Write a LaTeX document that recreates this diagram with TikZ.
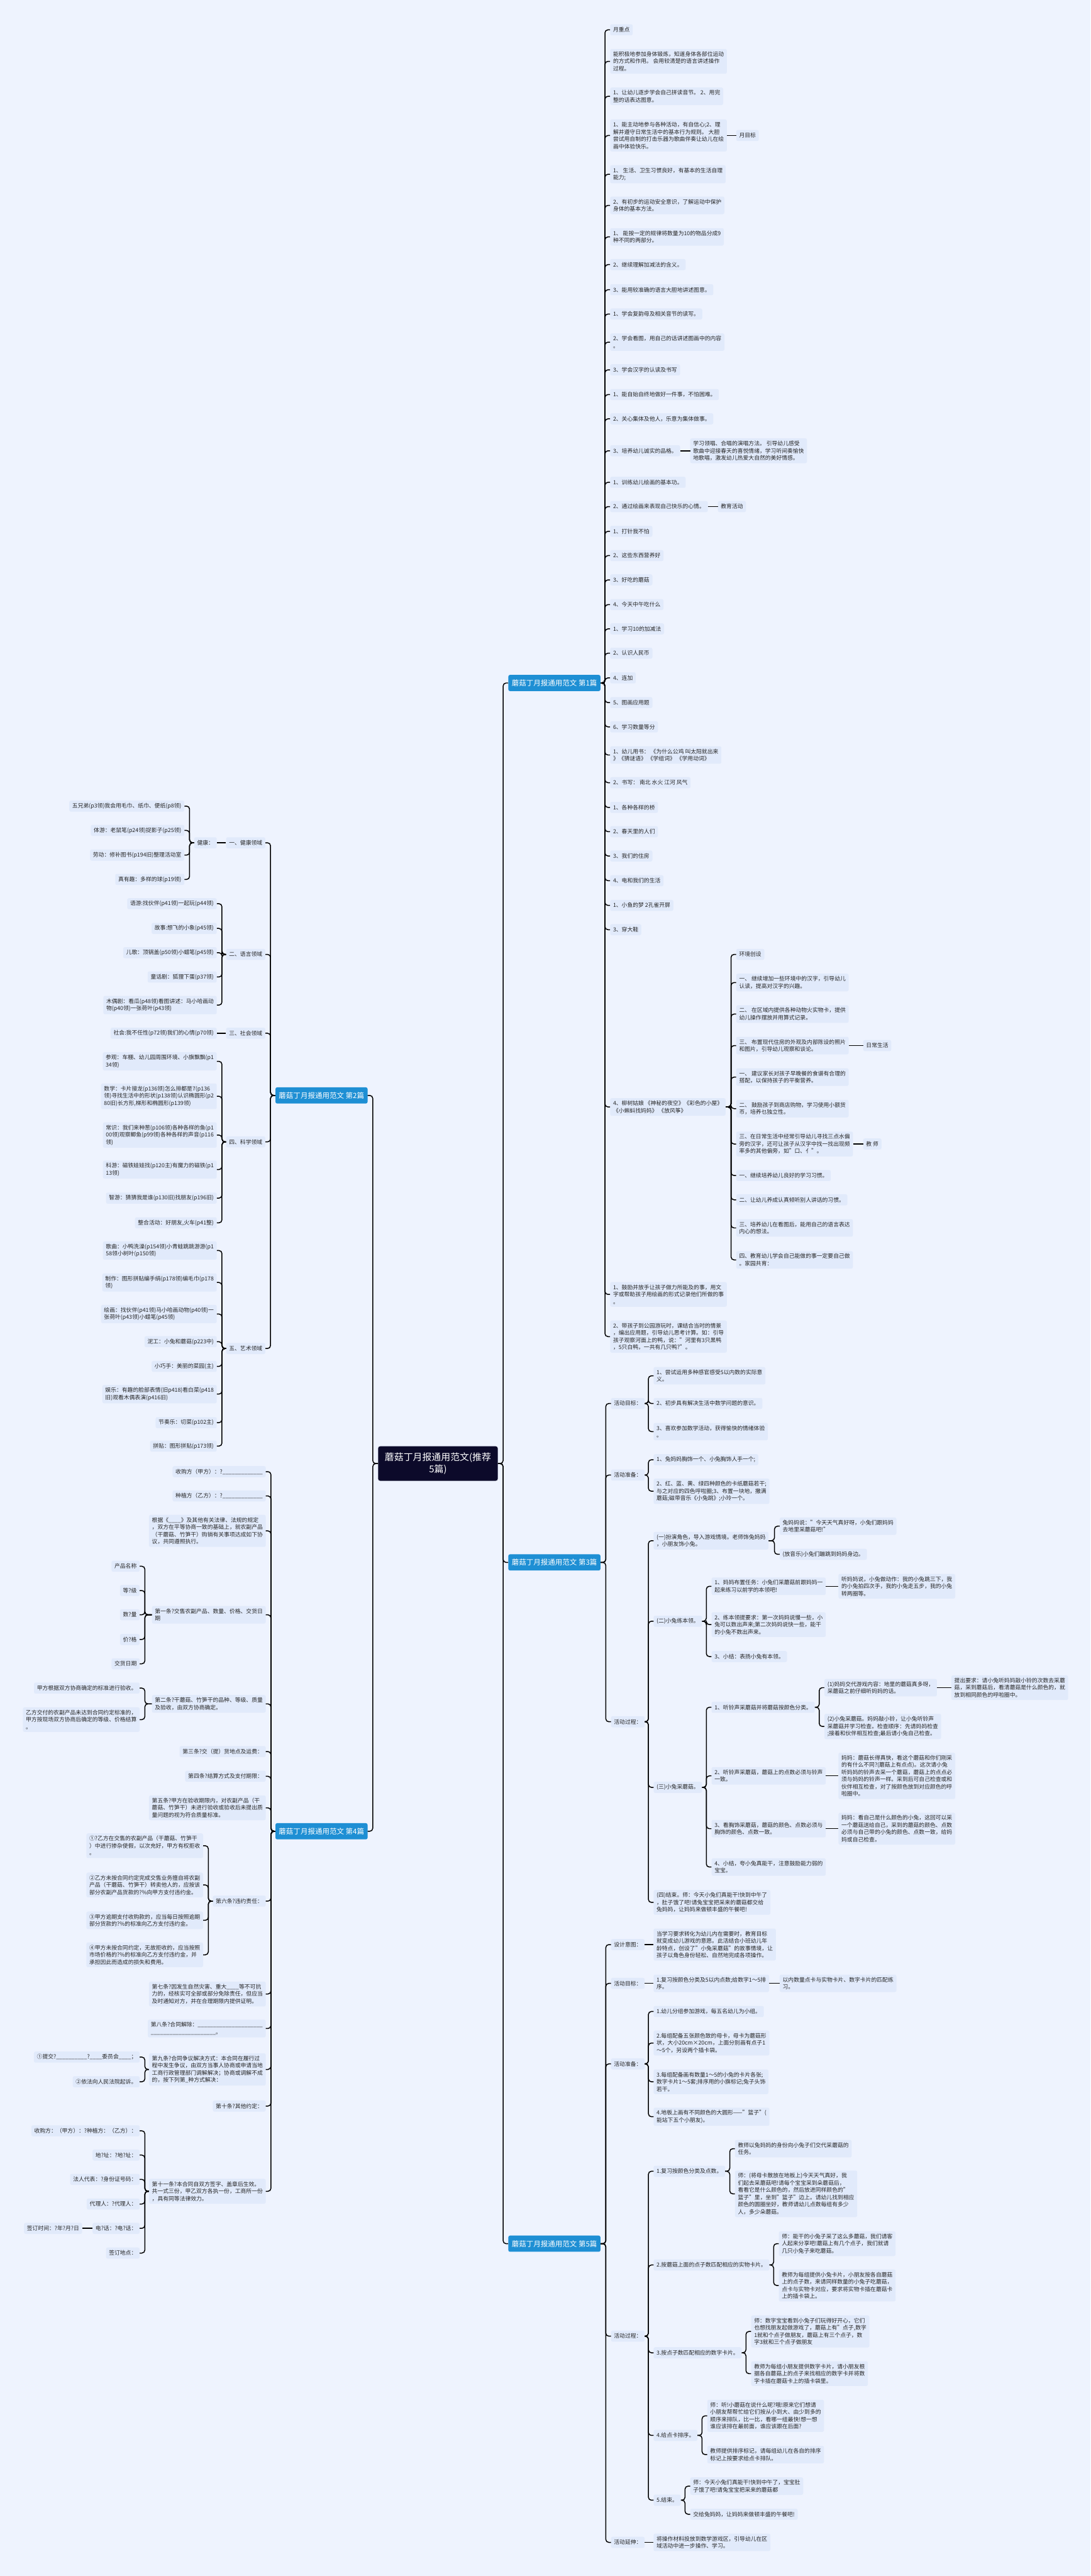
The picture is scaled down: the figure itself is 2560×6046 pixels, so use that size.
\documentclass[tikz,border=0pt]{standalone}
\usepackage{fontspec}
\setmainfont{Noto Sans CJK SC}
\usepackage{tikz}

\definecolor{bgblue}{RGB}{238,243,254}
\definecolor{boxfill}{RGB}{225,234,251}
\definecolor{chapblue}{RGB}{30,143,212}
\definecolor{rootnavy}{RGB}{12,10,42}
\definecolor{ink}{RGB}{38,38,38}

\begin{document}
\begin{tikzpicture}[x=1pt,y=-1pt,
    entry/.style={fill=boxfill,rounded corners=4pt,inner xsep=7pt,inner ysep=6pt,minimum height=26pt,align=left,text=ink,font=\fontsize{13}{17}\selectfont},
    er/.style={entry,anchor=west},
    el/.style={entry,anchor=east},
    chapter/.style={fill=chapblue,text=white,rounded corners=4pt,inner xsep=8pt,minimum height=38pt,font=\fontsize{17}{20}\selectfont},
    centre/.style={fill=rootnavy,text=white,rounded corners=5pt,minimum width=281pt,minimum height=81pt,align=center,font=\fontsize{22}{27}\selectfont},
    link/.style={draw=black,line width=2.2pt,rounded corners=7pt}]
    \useasboundingbox (0,0) rectangle (2560,6046);
    \fill[bgblue] (0,0) rectangle (2560,6046);

    % centre and the five parts
    \node[centre] (root) at (1028,3435) {蘑菇丁月报通用范文(推荐\\5篇)};
    \node[chapter,anchor=west] (s1) at (1193,1603) {蘑菇丁月报通用范文 第1篇};
    \node[chapter,anchor=east] (s2) at (863,2571) {蘑菇丁月报通用范文 第2篇};
    \node[chapter,anchor=west] (s3) at (1193,3667) {蘑菇丁月报通用范文 第3篇};
    \node[chapter,anchor=east] (s4) at (863,4298) {蘑菇丁月报通用范文 第4篇};
    \node[chapter,anchor=west] (s5) at (1193,5266) {蘑菇丁月报通用范文 第5篇};

    % part 1
    \node[er] (a1) at (1432,70) {月重点};
    \node[er] (a2) at (1432,144) {能积极地参加身体锻炼，知道身体各部位运动\\的方式和作用。 会用较清楚的语言讲述操作\\过程。};
    \node[er] (a3) at (1432,226) {1、让幼儿逐步学会自己拼读音节。 2、用完\\整的话表达图意。};
    \node[er] (a4) at (1432,318) {1、能主动地参与各种活动，有自信心;2、理\\解并遵守日常生活中的基本行为规则。 大胆\\尝试用自制的打击乐器为歌曲伴奏让幼儿在绘\\画中体验快乐。};
    \node[er] (a4x) at (1728,318) {月目标};
    \node[er] (a5) at (1432,409) {1、 生活、卫生习惯良好，有基本的生活自理\\能力;};
    \node[er] (a6) at (1432,482) {2、有初步的运动安全意识，了解运动中保护\\身体的基本方法。};
    \node[er] (a7) at (1432,556) {1、 能按一定的规律将数量为10的物品分成9\\种不同的两部分。};
    \node[er] (a8) at (1432,621) {2、继续理解加减法的含义。};
    \node[er] (a9) at (1432,680) {3、能用较准确的语言大胆地讲述图意。};
    \node[er] (a10) at (1432,737) {1、学会复韵母及相关音节的读写。};
    \node[er] (a11) at (1432,803) {2、学会看图，用自己的话讲述图画中的内容\\。};
    \node[er] (a12) at (1432,868) {3、学会汉字的认读及书写};
    \node[er] (a13) at (1432,926) {1、能自始自终地做好一件事，不怕困难。};
    \node[er] (a14) at (1432,983) {2、关心集体及他人，乐意为集体做事。};
    \node[er] (a15) at (1432,1058) {3、培养幼儿诚实的品格。};
    \node[er] (a15x) at (1620,1058) {学习领唱、合唱的演唱方法。 引导幼儿感受\\歌曲中迎接春天的喜悦情绪，学习听间奏愉快\\地歌唱，激发幼儿热爱大自然的美好情感。};
    \node[er] (a16) at (1432,1132) {1、训练幼儿绘画的基本功。};
    \node[er] (a17) at (1432,1189) {2、通过绘画来表现自己快乐的心情。};
    \node[er] (a17x) at (1685,1189) {教育活动};
    \node[er] (a18) at (1432,1247) {1、打针我不怕};
    \node[er] (a19) at (1432,1304) {2、这些东西营养好};
    \node[er] (a20) at (1432,1361) {3、好吃的蘑菇};
    \node[er] (a21) at (1432,1419) {4、今天中午吃什么};
    \node[er] (a22) at (1432,1476) {1、学习10的加减法};
    \node[er] (a23) at (1432,1533) {2、认识人民币};
    \node[er] (a24) at (1432,1591) {4、连加};
    \node[er] (a25) at (1432,1649) {5、图画应用题};
    \node[er] (a26) at (1432,1706) {6、学习数量等分};
    \node[er] (a27) at (1432,1772) {1、幼儿用书：  《为什么公鸡 叫太阳就出来\\》《猜谜语》 《学组词》 《学用动词》};
    \node[er] (a28) at (1432,1837) {2、书写：  南北 水火 江河 风气};
    \node[er] (a29) at (1432,1895) {1、各种各样的桥};
    \node[er] (a30) at (1432,1952) {2、春天里的人们};
    \node[er] (a31) at (1432,2009) {3、我们的住房};
    \node[er] (a32) at (1432,2067) {4、电和我们的生活};
    \node[er] (a33) at (1432,2125) {1、小鱼的梦 2孔雀开屏};
    \node[er] (a34) at (1432,2182) {3、穿大鞋};
    \node[er] (a35) at (1432,2598) {4、柳树姑娘 《神秘的夜空》《彩色的小屋》\\《小蝌蚪找妈妈》 《放风筝》};
    \node[er] (a36) at (1432,3038) {1、鼓励并放手让孩子做力所能及的事，用文\\字或帮助孩子用绘画的形式记录他们所做的事\\。};
    \node[er] (a37) at (1432,3137) {2、带孩子到公园游玩时，课结合当时的情景\\，编出应用题，引导幼儿思考计算。如：引导\\孩子观察河面上的鸭，说："河里有3只黑鸭\\，5只白鸭，一共有几只鸭?"。};

    \node[er] (b1) at (1728,2240) {环境创设};
    \node[er] (b2) at (1728,2306) {一、 继续增加一些环境中的汉字，引导幼儿\\认读，提高对汉字的兴趣。};
    \node[er] (b3) at (1728,2380) {二、 在区域内提供各种动物火实物卡，提供\\幼儿操作摆放并用算式记录。};
    \node[er] (b4) at (1728,2454) {三、 布置现代住房的外观及内部陈设的照片\\和图片，引导幼儿观察和谈论。};
    \node[er] (b4x) at (2026,2454) {日常生活};
    \node[er] (b5) at (1728,2528) {一、 建议家长对孩子早晚餐的食谱有合理的\\搭配，以保持孩子的平衡营养。};
    \node[er] (b6) at (1728,2602) {二、 鼓励孩子到商店购物，学习使用小额货\\币，培养乜独立性。};
    \node[er] (b7) at (1728,2685) {三、在日常生活中经常引导幼儿寻找三点水偏\\旁的汉字，还可让孩子从汉字中找一找出现频\\率多的其他偏旁，如"口、亻"。};
    \node[er] (b7x) at (2026,2685) {教 师};
    \node[er] (b8) at (1728,2759) {一、继续培养幼儿良好的学习习惯。};
    \node[er] (b9) at (1728,2816) {二、让幼儿养成认真倾听别人讲话的习惯。};
    \node[er] (b10) at (1728,2882) {三、培养幼儿在看图后，能用自己的语言表达\\内心的想法。};
    \node[er] (b11) at (1728,2957) {四、教育幼儿学会自己能做的事一定要自己做\\。家园共育：};

    % part 3
    \node[er] (c1) at (1434,3294) {活动目标：};
    \node[er] (c1a) at (1534,3229) {1、尝试运用多种感官感受5以内数的实际意\\义。};
    \node[er] (c1b) at (1534,3294) {2、初步具有解决生活中数学问题的意识。};
    \node[er] (c1c) at (1534,3360) {3、喜欢参加数学活动，获得愉快的情绪体验\\。};
    \node[er] (c2) at (1434,3462) {活动准备：};
    \node[er] (c2a) at (1534,3426) {1、兔妈妈胸饰一个、小兔胸饰人手一个;};
    \node[er] (c2b) at (1534,3500) {2、红、蓝、黄、绿四种颜色的卡纸蘑菇若干;\\与之对应的四色呼啦圈;3、布置一块地，撒满\\蘑菇;磁带音乐《小兔跳》;小玲一个。};
    \node[er] (c3) at (1434,4041) {活动过程：};
    \node[er] (c3a) at (1534,3616) {(一)扮演角色，导入游戏情境。老师饰兔妈妈\\，小朋友饰小兔。};
    \node[er] (c3a1) at (1830,3582) {兔妈妈说："今天天气真好呀，小兔们跟妈妈\\去地里采蘑菇吧!"};
    \node[er] (c3a2) at (1830,3648) {(放音乐)小兔们蹦跳到妈妈身边。};
    \node[er] (c3b) at (1534,3805) {(二)小兔练本领。};
    \node[er] (c3b1) at (1670,3723) {1、妈妈布置任务：小兔们采蘑菇前跟妈妈一\\起来练习以前学的本领吧!};
    \node[er] (c3b1x) at (1968,3723) {听妈妈说，小兔做动作：我的小兔跳三下，我\\的小兔拍四次手，我的小兔走五步，我的小兔\\转两圈等。};
    \node[er] (c3b2) at (1670,3813) {2、练本领提要求：第一次妈妈说慢一些，小\\兔可以数出声来;第二次妈妈说快一些，能干\\的小兔不数出声来。};
    \node[er] (c3b3) at (1670,3888) {3、小结：表扬小兔有本领。};
    \node[er] (c3c) at (1534,4195) {(三)小兔采蘑菇。};
    \node[er] (c3c1) at (1670,4007) {1、听铃声采蘑菇并将蘑菇按颜色分类。};
    \node[er] (c3c1a) at (1935,3961) {(1)妈妈交代游戏内容：地里的蘑菇真多呀，\\采蘑菇之前仔细听妈妈的话。};
    \node[er] (c3c1ax) at (2233,3961) {提出要求：请小兔听妈妈敲小铃的次数去采蘑\\菇，采到蘑菇后，看清蘑菇是什么颜色的，就\\放到相同颜色的呼啦圈中。};
    \node[er] (c3c1b) at (1935,4052) {(2)小兔采蘑菇。妈妈敲小铃，让小兔听铃声\\采蘑菇并学习检查。检查顺序：先请妈妈检查\\;接着和伙伴相互检查;最后请小兔自己检查。};
    \node[er] (c3c2) at (1670,4168) {2、听铃声采蘑菇，蘑菇上的点数必须与铃声\\一致。};
    \node[er] (c3c2x) at (1968,4168) {妈妈：蘑菇长得真快，看这个蘑菇和你们刚采\\的有什么不同?(蘑菇上有点点)。这次请小兔\\听妈妈的铃声去采一个蘑菇，蘑菇上的点点必\\须与妈妈的铃声一样。采到后可自己检查或和\\伙伴相互检查，对了按颜色放到对应颜色的呼\\啦圈中。};
    \node[er] (c3c3) at (1670,4292) {3、看胸饰采蘑菇，蘑菇的颜色、点数必须与\\胸饰的颜色、点数一致。};
    \node[er] (c3c3x) at (1968,4292) {妈妈：看自己是什么颜色的小兔，这回可以采\\一个蘑菇送给自己，采到的蘑菇的颜色、点数\\必须与自己带的小兔的颜色、点数一致，给妈\\妈或自己检查。};
    \node[er] (c3c4) at (1670,4382) {4、小结，夸小兔真能干，注意鼓励能力弱的\\宝宝。};
    \node[er] (c3d) at (1534,4465) {(四)结束。师：今天小兔们真能干!快到中午了\\，肚子饿了吧!请兔宝宝把采来的蘑菇都交给\\兔妈妈，让妈妈来做顿丰盛的午餐吧!};

    % part 5
    \node[er] (d1) at (1434,4564) {设计意图：};
    \node[er] (d1a) at (1534,4564) {当学习要求转化为幼儿内在需要时，教育目标\\就变成幼儿游戏的意愿。此活结合小班幼儿年\\龄特点，创设了"小兔采蘑菇"的故事情境，让\\孩子以角色身份轻松、自然地完成各项操作。};
    \node[er] (d2) at (1434,4655) {活动目标：};
    \node[er] (d2a) at (1534,4655) {1.复习按颜色分类及5以内点数;给数字1～5排\\序。};
    \node[er] (d2ax) at (1830,4655) {以内数量点卡与实物卡片、数字卡片的匹配练\\习。};
    \node[er] (d3) at (1434,4844) {活动准备：};
    \node[er] (d3a) at (1534,4721) {1.幼儿分组参加游戏，每五名幼儿为小组。};
    \node[er] (d3b) at (1534,4795) {2.每组配备五张颜色致的母卡，母卡为蘑菇形\\状，大小20cm×20cm，上面分别画有点子1\\～5个，另设两个插卡袋。};
    \node[er] (d3c) at (1534,4886) {3.每组配备画有数量1～5的小兔的卡片各张;\\数字卡片1～5套;排序用的小旗标记;兔子头饰\\若干。};
    \node[er] (d3d) at (1534,4968) {4.地板上画有不同颜色的大圆形——"篮子"(\\能站下五个小朋友)。};
    \node[er] (d4) at (1434,5483) {活动过程：};
    \node[er] (d4a) at (1534,5096) {1.复习按颜色分类及点数。};
    \node[er] (d4a1) at (1725,5043) {教师以兔妈妈的身份向小兔子们交代采蘑菇的\\任务。};
    \node[er] (d4a2) at (1725,5149) {师：(将母卡散放在地板上)今天天气真好，我\\们起去采蘑菇吧!请每个宝宝采到朵蘑菇后，\\看看它是什么颜色的，然后放进同样颜色的"\\篮子"里，坐到"篮子"边上。请幼儿找到相应\\颜色的圆圈坐好，教师请幼儿点数每组有多少\\人，多少朵蘑菇。};
    \node[er] (d4b) at (1534,5316) {2.按蘑菇上面的点子数匹配相应的实物卡片。};
    \node[er] (d4b1) at (1828,5266) {师：能干的小兔子采了这么多蘑菇，我们请客\\人起来分享吧!蘑菇上有几个点子，我们就请\\几只小兔子来吃蘑菇。};
    \node[er] (d4b2) at (1828,5364) {教师为每组提供小兔卡片，小朋友按各自蘑菇\\上的点子数，来请同样数量的小兔子吃蘑菇，\\点卡与实物卡对应，要求将实物卡插在蘑菇卡\\上的插卡袋上。};
    \node[er] (d4c) at (1534,5522) {3.按点子数匹配相应的数字卡片。};
    \node[er] (d4c1) at (1763,5472) {师：数字宝宝看到小兔子们玩得好开心，它们\\也想找朋友起做游戏了，蘑菇上有"点子,数字\\1就和个点子做朋友，蘑菇上有三个点子，数\\字3就和三个点子做朋友};
    \node[er] (d4c2) at (1763,5571) {教师为每组小朋友提供数字卡片，请小朋友根\\据各自蘑菇上的点子来找相应的数字卡并将数\\字卡插在蘑菇卡上的插卡袋里。};
    \node[er] (d4d) at (1534,5716) {4.给点卡排序。};
    \node[er] (d4d1) at (1660,5670) {师：听!小蘑菇在说什么呢?哦!原来它们想请\\小朋友帮帮忙给它们按从小到大、由少到多的\\顺序来排队，比一比，看哪一组最快!想一想\\谁应该排在最前面，谁应该跟在后面?};
    \node[er] (d4d2) at (1660,5761) {教师提供排序标记，请每组幼儿在各自的排序\\标记上按要求给点卡排队。};
    \node[er] (d4e) at (1534,5868) {5.结束。};
    \node[er] (d4e1) at (1620,5835) {师：今天小兔们真能干!快到中午了，宝宝肚\\子饿了吧!请兔宝宝把采来的蘑菇都};
    \node[er] (d4e2) at (1620,5901) {交给兔妈妈，让妈妈来做顿丰盛的午餐吧!};
    \node[er] (d5) at (1434,5967) {活动延伸：};
    \node[er] (d5a) at (1534,5967) {将操作材料投放到数学游戏区，引导幼儿在区\\域活动中进一步操作、学习。};

    % part 2
    \node[el] (e1) at (623,1978) {一、健康领域};
    \node[el] (e1a) at (509,1978) {健康：};
    \node[el] (e1a1) at (433,1892) {五兄弟(p3领)我会用毛巾、纸巾、便纸(p8领)};
    \node[el] (e1a2) at (433,1949) {体游：老鼠笔(p24领)捉影子(p25领)};
    \node[el] (e1a3) at (433,2007) {劳动：修补图书(p194旧)整理活动室};
    \node[el] (e1a4) at (433,2064) {真有趣：多样的球(p19领)};
    \node[el] (e2) at (623,2240) {二、语言领域};
    \node[el] (e2a) at (509,2121) {语游:找伙伴(p41领)一起玩(p44领)};
    \node[el] (e2b) at (509,2179) {故事:想飞的小象(p45领)};
    \node[el] (e2c) at (509,2236) {儿歌：顶锅盖(p50领)小蜡笔(p45领)};
    \node[el] (e2d) at (509,2293) {童话剧：狐狸下蛋(p37领)};
    \node[el] (e2e) at (509,2359) {木偶剧：看瓜(p48领)看图讲述：马小哈画动\\物(p40领)一张荷叶(p43领)};
    \node[el] (e3) at (623,2425) {三、社会领域};
    \node[el] (e3a) at (509,2425) {社会:我不任性(p72领)我们的心情(p70领)};
    \node[el] (e4) at (623,2680) {四、科学领域};
    \node[el] (e4a) at (509,2491) {参观：车棚、幼儿园周围环境、小旗飘飘(p1\\34领)};
    \node[el] (e4b) at (509,2573) {数学：卡片接龙(p136领)怎么排都是7(p136\\领)寻找生活中的形状(p138领)认识椭圆形(p2\\80旧)长方形,梯形和椭圆形(p139领)};
    \node[el] (e4c) at (509,2664) {常识：我们来种葱(p106领)各种各样的鱼(p1\\00领)观察鲫鱼(p99领)各种各样的声音(p116\\领)};
    \node[el] (e4d) at (509,2745) {科游：磁铁娃娃找(p120主)有魔力的磁铁(p1\\13领)};
    \node[el] (e4e) at (509,2812) {智游：猜猜我是谁(p130旧)找朋友(p196旧)};
    \node[el] (e4f) at (509,2870) {整合活动：好朋友,火车(p41整)};
    \node[el] (e5) at (623,3165) {五、艺术领域};
    \node[el] (e5a) at (509,2935) {歌曲：小鸭洗澡(p154领)小青蛙跳跳游游(p1\\58领小树叶(p150领)};
    \node[el] (e5b) at (509,3010) {制作：图形拼贴编手绢(p178领)编毛巾(p178\\领)};
    \node[el] (e5c) at (509,3084) {绘画：找伙伴(p41领)马小哈画动物(p40领)一\\张荷叶(p43领)小蜡笔(p45领)};
    \node[el] (e5d) at (509,3149) {泥工：小兔和蘑菇(p223中)};
    \node[el] (e5e) at (509,3207) {小巧手：美丽的菜园(主)};
    \node[el] (e5f) at (509,3272) {娱乐：有趣的脸部表情(旧p418)看白菜(p418\\旧)观看木偶表演(p416旧)};
    \node[el] (e5g) at (509,3339) {节奏乐：切菜(p102主)};
    \node[el] (e5h) at (509,3394) {拼贴：图形拼贴(p173领)};

    % part 4
    \node[el] (f1) at (624,3454) {收购方（甲方）：?\_\_\_\_\_\_\_\_\_\_\_\_\_};
    \node[el] (f2) at (624,3511) {种植方（乙方）：?\_\_\_\_\_\_\_\_\_\_\_\_\_};
    \node[el] (f3) at (624,3593) {根据《\_\_\_\_》及其他有关法律、法规的规定\\，双方在平等协商一致的基础上，就农副产品\\（干蘑菇、竹笋干）购销有关事项达成如下协\\议，共同遵照执行。};
    \node[el] (f4) at (624,3790) {第一条?交售农副产品、数量、价格、交货日\\期};
    \node[el] (f4a) at (328,3676) {产品名称};
    \node[el] (f4b) at (328,3733) {等?级};
    \node[el] (f4c) at (328,3790) {数?量};
    \node[el] (f4d) at (328,3848) {价?格};
    \node[el] (f4e) at (328,3905) {交货日期};
    \node[el] (f5) at (624,3999) {第二条?干蘑菇、竹笋干的品种、等级、质量\\及验收，由双方协商确定。};
    \node[el] (f5a) at (328,3962) {甲方根据双方协商确定的标准进行验收。};
    \node[el] (f5b) at (328,4036) {乙方交付的农副产品未达到合同约定标准的，\\甲方按现场双方协商后确定的等级、价格结算\\。};
    \node[el] (f6) at (624,4111) {第三条?交（提）货地点及运费：};
    \node[el] (f7) at (624,4169) {第四条?结算方式及支付期限：};
    \node[el] (f8) at (624,4243) {第五条?甲方在验收期限内，对农副产品（干\\蘑菇、竹笋干）未进行验收或验收后未提出质\\量问题的视为符合质量标准。};
    \node[el] (f9) at (624,4462) {第六条?违约责任：};
    \node[el] (f9a) at (477,4332) {①?乙方在交售的农副产品（干蘑菇、竹笋干\\）中进行掺杂使假，以次充好，甲方有权拒收\\。};
    \node[el] (f9b) at (477,4424) {②乙方未按合同约定完成交售业务擅自将农副\\产品（干蘑菇、竹笋干）转卖他人的，应按该\\部分农副产品货款的?\%向甲方支付违约金。};
    \node[el] (f9c) at (477,4507) {③甲方逾期支付收购款的，应当每日按照逾期\\部分货款的?\%的标准向乙方支付违约金。};
    \node[el] (f9d) at (477,4588) {④甲方未按合同约定，无故拒收的，应当按照\\市场价格的?\%的标准向乙方支付违约金，并\\承担因此而造成的损失和费用。};
    \node[el] (f10) at (624,4680) {第七条?因发生自然灾害、重大\_\_\_\_等不可抗\\力的，经核实可全部或部分免除责任，但应当\\及时通知对方，并在合理期限内提供证明。};
    \node[el] (f11) at (624,4761) {第八条?合同解除：\_\_\_\_\_\_\_\_\_\_\_\_\_\_\_\_\_\_\_\_\_\\\_\_\_\_\_\_\_\_\_\_\_\_\_\_\_\_\_\_\_\_\_。};
    \node[el] (f12) at (624,4857) {第九条?合同争议解决方式：本合同在履行过\\程中发生争议，由双方当事人协商或申请当地\\工商行政管理部门调解解决；协商或调解不成\\的，按下列第\_种方式解决：};
    \node[el] (f12a) at (328,4828) {①提交?\_\_\_\_\_\_\_\_\_\_?\_\_\_\_委员会\_\_\_\_；};
    \node[el] (f12b) at (328,4886) {②依法向人民法院起诉。};
    \node[el] (f13) at (624,4943) {第十条?其他约定：};
    \node[el] (f14) at (624,5143) {第十一条?本合同自双方签字、盖章后生效。\\共一式三份，甲乙双方各执一份，工商所一份\\，具有同等法律效力。};
    \node[el] (f14a) at (328,5001) {收购方：（甲方）：?种植方：（乙方）：};
    \node[el] (f14b) at (328,5058) {地?址：?地?址：};
    \node[el] (f14c) at (328,5115) {法人代表：?身份证号码：};
    \node[el] (f14d) at (328,5173) {代理人：?代理人：};
    \node[el] (f14e) at (328,5230) {电?话：?电?话：};
    \node[el] (f14ex) at (193,5230) {签订时间：?年?月?日};
    \node[el] (f14f) at (328,5288) {签订地点：};

    % connectors, right-hand side
    \foreach \p/\c in {root/s1,root/s3,root/s5,
        a35/b1,a35/b2,a35/b3,a35/b4,a35/b5,a35/b6,a35/b7,a35/b8,a35/b9,a35/b10,a35/b11,
        s3/c1,s3/c2,s3/c3,c1/c1a,c1/c1b,c1/c1c,c2/c2a,c2/c2b,
        c3/c3a,c3/c3b,c3/c3c,c3/c3d,c3a/c3a1,c3a/c3a2,c3b/c3b1,c3b/c3b2,c3b/c3b3,
        c3c/c3c1,c3c/c3c2,c3c/c3c3,c3c/c3c4,c3c1/c3c1a,c3c1/c3c1b,
        s5/d1,s5/d2,s5/d3,s5/d4,s5/d5,d3/d3a,d3/d3b,d3/d3c,d3/d3d,
        d4/d4a,d4/d4b,d4/d4c,d4/d4d,d4/d4e,d4a/d4a1,d4a/d4a2,d4b/d4b1,d4b/d4b2,
        d4c/d4c1,d4c/d4c2,d4d/d4d1,d4d/d4d2,d4e/d4e1,d4e/d4e2}
      \draw[link] (\p.east) -| ([xshift=-12pt]\c.west) -- (\c.west);
    \foreach \i in {1,...,37}
      \draw[link] (s1.east) -| ([xshift=-12pt]a\i.west) -- (a\i.west);
    \foreach \p/\c in {a4/a4x,a15/a15x,a17/a17x,b4/b4x,b7/b7x,c3b1/c3b1x,c3c1a/c3c1ax,
        c3c2/c3c2x,c3c3/c3c3x,d1/d1a,d2/d2a,d2a/d2ax,d5/d5a}
      \draw[link] (\p.east) -- (\c.west);

    % connectors, left-hand side
    \foreach \p/\c in {root/s2,root/s4,s2/e1,s2/e2,s2/e3,s2/e4,s2/e5,
        e1a/e1a1,e1a/e1a2,e1a/e1a3,e1a/e1a4,
        e2/e2a,e2/e2b,e2/e2c,e2/e2d,e2/e2e,
        e4/e4a,e4/e4b,e4/e4c,e4/e4d,e4/e4e,e4/e4f,
        e5/e5a,e5/e5b,e5/e5c,e5/e5d,e5/e5e,e5/e5f,e5/e5g,e5/e5h,
        f4/f4a,f4/f4b,f4/f4c,f4/f4d,f4/f4e,f5/f5a,f5/f5b,
        f9/f9a,f9/f9b,f9/f9c,f9/f9d,f12/f12a,f12/f12b,
        f14/f14a,f14/f14b,f14/f14c,f14/f14d,f14/f14e,f14/f14f}
      \draw[link] (\p.west) -| ([xshift=12pt]\c.east) -- (\c.east);
    \foreach \i in {1,...,14}
      \draw[link] (s4.west) -| ([xshift=12pt]f\i.east) -- (f\i.east);
    \foreach \p/\c in {e1/e1a,e3/e3a,f14e/f14ex}
      \draw[link] (\p.west) -- (\c.east);
\end{tikzpicture}
\end{document}
